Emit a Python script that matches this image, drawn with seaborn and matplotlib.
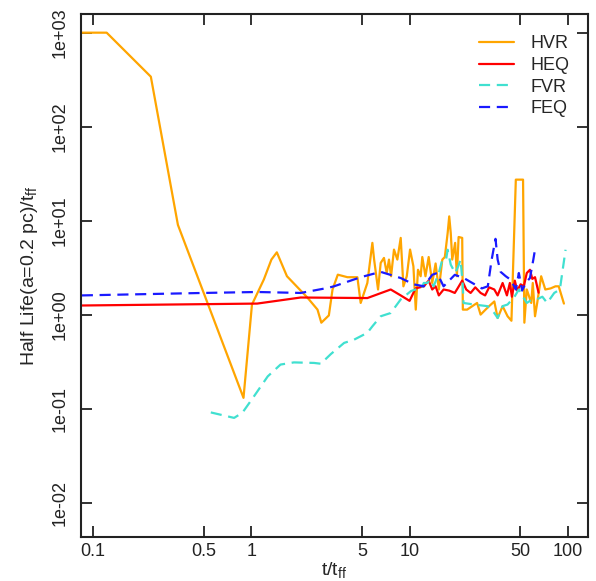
import numpy as np
import pandas as pd
import matplotlib
matplotlib.use("Agg")
import matplotlib.pyplot as plt
import seaborn as sns

# ---- data ----
hvr_t = [0.085, 0.122, 0.232, 0.344, 0.893, 1.01, 1.2, 1.34, 1.45, 1.68, 2.26, 2.62, 2.77, 3.09, 3.26, 3.52,
         4.05, 4.68, 4.91, 5.41, 5.82, 5.97, 6.32, 6.57, 6.89, 7.17, 7.41, 7.64, 7.97, 8.37, 8.79, 9.14, 9.6,
         10.07, 10.57, 10.94, 11.3, 11.75, 12.03, 12.6, 13.2, 13.9, 14.6, 15.3, 16.1, 16.7, 17.4, 17.8, 18.2,
         18.6, 19.4, 19.9, 20.4, 21.5, 21.7, 23.1, 24.9, 26.7, 28.1, 30.2, 31.8, 34.3, 36.0, 38.7, 41.6, 44.0,
         46.9, 52.1, 53.1, 55.0, 58.7, 60.0, 62.0, 64.0, 67.8, 72.0, 77.8, 83.5, 87.5, 94.4]
hvr_v = [1000, 1000, 340, 9.0, 0.13, 1.28, 2.36, 3.85, 4.6, 2.56, 1.52, 1.13, 0.82, 0.98, 1.85, 2.66,
         2.5, 2.5, 1.33, 2.17, 5.8, 3.85, 1.85, 3.55, 4.01, 2.77, 3.85, 2.56, 4.92, 3.85, 6.55, 2.0, 2.56,
         4.92, 3.27, 1.13, 3.0, 2.56, 4.1, 2.56, 4.1, 2.17, 3.5, 1.85, 3.85, 4.1, 7.39, 11.1, 7.39,
         3.85, 5.8, 2.56, 6.7, 6.55, 1.13, 1.13, 1.23, 1.33, 1.0, 1.13, 1.23, 1.38, 0.92, 1.23, 0.96, 0.86,
         27.3, 27.3, 0.82, 1.85, 1.33, 2.17, 0.96, 1.33, 2.56, 1.85, 1.9, 2.0, 2.0, 1.31]

heq_t = [0.085, 1.09, 2.05, 5.41, 7.6, 8.79, 10.0, 10.9, 12.3, 13.2, 13.9, 14.6, 15.3, 16.4, 17.8, 19.3,
         20.1, 21.5, 22.8, 24.3, 26.0, 28.1, 30.0, 31.8, 34.3, 36.0, 38.7, 41.2, 43.0, 44.3, 46.2, 47.9,
         50.3, 52.7, 55.0, 57.6, 59.6, 62.0, 65.3]
heq_v = [1.25, 1.31, 1.52, 1.5, 1.85, 1.6, 1.4, 1.9, 2.0, 2.3, 1.85, 2.0, 1.6, 1.85, 1.8, 1.7,
         1.9, 2.3, 1.85, 1.7, 1.95, 1.7, 1.6, 1.95, 1.85, 1.6, 2.17, 1.6, 2.17, 1.55, 2.3, 1.8,
         2.1, 2.0, 2.77, 3.0, 2.4, 2.5, 1.71]

fvr_t = [0.555, 0.779, 0.88, 1.04, 1.27, 1.53, 1.86, 2.49, 2.75, 3.18, 3.86, 4.45, 5.41, 5.82, 6.57, 7.6,
         8.79, 10.2, 10.9, 11.75, 12.3, 12.9, 13.6, 14.2, 15.3, 16.1, 17.0, 17.4, 18.2, 19.4, 20.3, 21.0,
         21.7, 21.9, 25.5, 31.0, 34.3, 36.0, 38.7, 41.6, 46.0, 49.0, 52.7, 55.0, 57.6, 63.5, 69.0, 74.0,
         82.0, 89.0, 96.7]
fvr_v = [0.091, 0.0796, 0.0906, 0.135, 0.22, 0.294, 0.31, 0.306, 0.3, 0.38, 0.5, 0.54, 0.64, 0.75, 0.96, 1.04,
         1.45, 1.78, 1.85, 1.85, 2.17, 2.17, 2.35, 2.0, 2.77, 3.85, 3.85, 4.9, 3.4, 2.77, 3.27, 3.85,
         2.0, 1.33, 1.28, 1.23, 1.04, 0.92, 1.23, 1.28, 1.55, 1.85, 1.5, 1.33, 1.4, 1.45, 1.55, 1.33,
         1.7, 1.85, 4.9]

feq_t = [0.085, 0.50, 1.09, 2.05, 3.03, 3.33, 4.91, 6.57, 8.79, 10.6, 12.3, 13.9, 14.9, 16.4, 19.3, 22.0,
         24.9, 28.6, 31.2, 33.0, 34.9, 36.0, 37.6, 40.5, 43.5, 46.9, 49.0, 51.4, 54.1, 57.6, 60.5, 62.2]
feq_v = [1.6, 1.70, 1.74, 1.70, 1.92, 2.0, 2.5, 2.85, 2.45, 2.1, 2.0, 2.65, 2.77, 2.0, 2.65, 2.45,
         2.17, 1.9, 2.0, 3.85, 6.4, 3.85, 2.85, 2.56, 2.35, 1.85, 2.77, 1.8, 2.17, 2.45, 3.85, 5.1]

series_names = ["HVR", "HEQ", "FVR", "FEQ"]
x_ticks = [0.1, 0.5, 1, 5, 10, 50, 100]
x_tick_labels = ["0.1", "0.5", "1", "5", "10", "50", "100"]
y_ticks = [1e-2, 1e-1, 1e0, 1e1, 1e2, 1e3]
y_tick_labels = ["1e-02", "1e-01", "1e+00", "1e+01", "1e+02", "1e+03"]

# ---- plot ----
sns.set_style("ticks")
plt.rcParams["font.family"] = ["Liberation Sans", "DejaVu Sans"]
plt.rcParams["mathtext.fontset"] = "custom"
plt.rcParams["mathtext.rm"] = "Liberation Sans"
plt.rcParams["mathtext.it"] = "Liberation Sans"

fig = plt.figure(figsize=(5.96, 5.81), dpi=100)
ax = fig.add_axes([81 / 596, 1 - 537 / 581, (588 - 81) / 596, (537 - 14) / 581])

styles = {
    "HVR": dict(color="#FFA500", dashes=None),
    "HEQ": dict(color="#FF0000", dashes=None),
    "FVR": dict(color="#40E0D0", dashes=(5, 3)),
    "FEQ": dict(color="#1a1aff", dashes=(5, 3)),
}
data = {"HVR": (hvr_t, hvr_v), "HEQ": (heq_t, heq_v), "FVR": (fvr_t, fvr_v), "FEQ": (feq_t, feq_v)}

for name in series_names:
    t, v = data[name]
    df = pd.DataFrame({"t": t, "v": v})
    st = styles[name]
    line_kw = dict(color=st["color"], lw=1.6, label=name)
    lp = sns.lineplot(data=df, x="t", y="v", ax=ax, sort=False, estimator=None, **line_kw)
    if st["dashes"] is not None:
        lp.lines[-1].set_dashes(st["dashes"])

ax.set_xscale("log")
ax.set_yscale("log")
ax.set_xlim(0.084, 134)
ax.set_ylim(0.0043, 1580)
ax.xaxis.set_major_locator(matplotlib.ticker.FixedLocator(x_ticks))
ax.xaxis.set_minor_locator(matplotlib.ticker.NullLocator())
ax.yaxis.set_major_locator(matplotlib.ticker.FixedLocator(y_ticks))
ax.yaxis.set_minor_locator(matplotlib.ticker.NullLocator())
ax.set_xticklabels(x_tick_labels)
ax.set_yticklabels(y_tick_labels, rotation=90, va="center")

ax.tick_params(direction="in", length=8, width=1.3, top=True, right=True, labelsize=13, colors="#222222",
               labelcolor="#222222")
ax.tick_params(axis="x", pad=4)
ax.tick_params(axis="y", pad=9)
for s in ax.spines.values():
    s.set_linewidth(1.5)
    s.set_color("#222222")

ax.set_xlabel(r"t/t$_{\rm ff}$", fontsize=14, labelpad=0)
ax.set_ylabel(r"Half Life(a=0.2 pc)/t$_{\rm ff}$", fontsize=14, labelpad=8)

leg = ax.legend(loc="upper right", frameon=False, fontsize=13, handlelength=1.9, handletextpad=0.95,
                labelspacing=0.25, borderpad=0.4, bbox_to_anchor=(0.996, 0.99), markerfirst=True)

fig.savefig("out.png", dpi=100)
